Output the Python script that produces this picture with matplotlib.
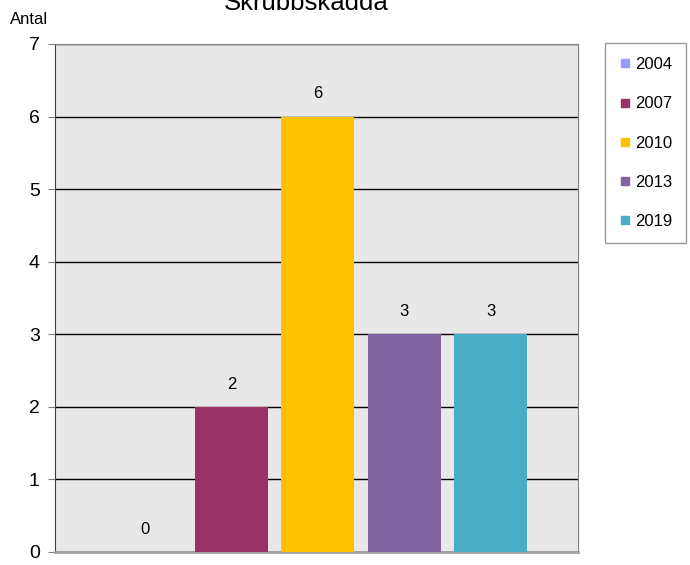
import matplotlib
matplotlib.use("Agg")
import matplotlib.pyplot as plt
from matplotlib.lines import Line2D
import numpy as np

plt.rcParams['font.family'] = ['Liberation Sans', 'DejaVu Sans']

years = ["2004", "2007", "2010", "2013", "2019"]
counts = [0, 2, 6, 3, 3]
colors = ["#9999ff", "#993366", "#ffc000", "#8064a2", "#4bacc6"]
title = "Skrubbskädda"
ylabel = "Antal"


def main():
    fig = plt.figure(figsize=(6.9, 5.65), dpi=100)
    ax = fig.add_axes([55 / 690, 13 / 565, 523 / 690, 508 / 565])
    ax.set_facecolor("#e8e8e8")

    x = np.arange(len(years))
    ax.bar(x, counts, width=0.845, color=colors, zorder=3)
    for xi, c in zip(x, counts):
        ax.annotate(str(c), (xi, c), xytext=(0, 11), textcoords="offset points",
                    ha="center", va="bottom", fontsize=12)

    ax.set_xlim(-1.04, 5.01)
    ax.set_ylim(0, 7)
    ax.set_yticks(range(0, 8))
    ax.set_xticks([])
    ax.yaxis.grid(True, color="black", linewidth=1, zorder=1)
    ax.tick_params(axis="y", labelsize=14, length=5, color="#808080", pad=6)

    for s in ["top", "right"]:
        ax.spines[s].set_color("#808080")
    ax.spines["left"].set_color("#404040")
    ax.spines["bottom"].set_color("#a0a0a0")
    ax.spines["bottom"].set_linewidth(2)

    # title sits partly above the canvas, as in the source image
    fig.text(306 / 690, 1 - 10 / 565, title, ha="center", va="baseline", fontsize=18.5)
    fig.text(10 / 690, 1 - 19 / 565, ylabel, ha="left", va="center", fontsize=12)

    handles = [Line2D([], [], marker="s", linestyle="none", markersize=6,
                      markerfacecolor=c, markeredgecolor=c) for c in colors]
    leg = fig.legend(handles, years, loc="upper left",
                     bbox_to_anchor=(605 / 690, 1 - 43 / 565), fontsize=12,
                     frameon=True, fancybox=False, labelspacing=1.45,
                     handlelength=0.7, handletextpad=0.25, borderpad=0.85,
                     borderaxespad=0)
    leg.get_frame().set_edgecolor("#808080")
    leg.get_frame().set_linewidth(1)

    fig.savefig("out.png", dpi=100)


if __name__ == "__main__":
    main()
